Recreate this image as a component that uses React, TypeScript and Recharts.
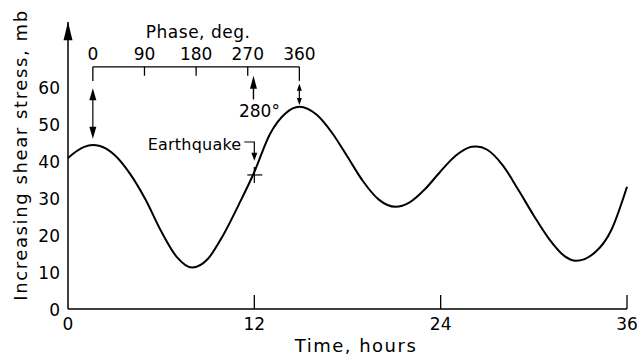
import React from "react";
import { LineChart, Line, XAxis, YAxis, ReferenceLine, ReferenceDot } from "recharts";

// curve (hours vs. shear stress, mb)
const HOURS = [0, 1, 1.6, 2, 3, 4, 5, 6, 7, 8, 9, 10, 11, 12, 13, 14, 14.9, 16, 17, 18, 19, 20, 21.1, 22, 23, 24, 25, 26, 26.3, 27, 28, 29, 30, 31, 32, 32.7, 34, 35, 36];
const STRESS = [40.8, 43.7, 44.3, 44.1, 41.6, 36.5, 29.5, 21, 14.1, 11.2, 13.5, 20, 28.2, 37, 47.2, 52.8, 54.6, 52.5, 47.6, 41.1, 34.5, 29.6, 27.6, 28.8, 32.4, 37.2, 41.5, 43.8, 43.9, 43, 38.8, 32.2, 25.2, 18.8, 14.2, 13, 15.5, 21.4, 33];
const TIME_TICKS = [0, 12, 24, 36];
const STRESS_TICKS = [0, 10, 20, 30, 40, 50, 60];
const PHASE_TICKS = [0, 90, 180, 270, 360];

const PHASE_ZERO_HOUR = 1.6;
const PHASE_FULL_HOUR = 14.9;
const EARTHQUAKE_PHASE = 280;
const EARTHQUAKE_HOUR = 12;
const EARTHQUAKE_STRESS = 36.2;
const Y_TOP = 77.5;

const FONT = "DejaVu Sans";
const INK = "#000";

const data = HOURS.map((h, i) => ({ hour: h, stress: STRESS[i] }));
const phaseHour = (p: number) => PHASE_ZERO_HOUR + (p / 360) * (PHASE_FULL_HOUR - PHASE_ZERO_HOUR);

function head(x: number, y: number, dir: "up" | "down", len: number, w: number) {
  const s = dir === "up" ? 1 : -1;
  return <polygon points={`${x},${y} ${x - w / 2},${y + s * len} ${x + w / 2},${y + s * len}`} fill={INK} />;
}

const txt = { fontFamily: FONT, fontSize: 17, fill: INK } as const;

export default function App() {
  return (
    <div style={{ position: "absolute", left: 0, top: 0, background: "#fff" }}>
      <LineChart width={638} height={357} data={data} margin={{ top: 22, right: 11, bottom: 0, left: 0 }}>
        <XAxis
          dataKey="hour"
          type="number"
          domain={[0, 36]}
          ticks={TIME_TICKS}
          interval={0}
          height={48}
          tickSize={0}
          tickMargin={0}
          tickLine={false}
          axisLine={{ stroke: INK, strokeWidth: 1.5 }}
          tick={(p: any) => (
            <g>
              {p.payload.value !== 0 && <line x1={p.x} x2={p.x} y1={p.y - 14} y2={p.y} stroke={INK} strokeWidth={1.3} />}
              <text x={p.x} y={p.y + 21} textAnchor="middle" {...txt}>{p.payload.value}</text>
            </g>
          )}
          label={{
            content: (p: any) => (
              <text x={p.viewBox.x + 288} y={p.viewBox.y + 43} textAnchor="middle" {...txt} fontSize={18} letterSpacing={1.5}>
                Time, hours
              </text>
            ),
          }}
        />
        <YAxis
          type="number"
          domain={[0, Y_TOP]}
          ticks={STRESS_TICKS}
          interval={0}
          width={68}
          tickSize={0}
          tickMargin={8}
          tickLine={false}
          axisLine={{ stroke: INK, strokeWidth: 1.5 }}
          tick={{ ...txt, dy: 1 }}
          label={{
            content: (p: any) => (
              <text
                transform={`translate(${p.viewBox.x + 27},${p.viewBox.y + 133}) rotate(-90)`}
                textAnchor="middle"
                {...txt}
                fontSize={18}
                letterSpacing={1.6}
              >
                Increasing shear stress, mb
              </text>
            ),
          }}
        />

        {/* arrow on top of the stress axis */}
        <ReferenceLine
          ifOverflow="visible"
          segment={[{ x: 0, y: Y_TOP }, { x: 0, y: 72.6 }]}
          shape={(p: any) => head(p.x1, p.y1, "up", p.y2 - p.y1, 9)}
        />

        {/* phase scale */}
        <ReferenceLine
          ifOverflow="visible"
          segment={[{ x: phaseHour(0), y: 65.4 }, { x: phaseHour(360), y: 65.4 }]}
          shape={(p: any) => (
            <g>
              <line x1={p.x1} y1={p.y1} x2={p.x2} y2={p.y2} stroke={INK} strokeWidth={1.3} />
              <text x={(p.x1 + p.x2) / 2 + 2} y={p.y1 - 29} textAnchor="middle" {...txt} letterSpacing={0.5}>
                Phase, deg.
              </text>
            </g>
          )}
        />
        {PHASE_TICKS.map((d) => (
          <ReferenceLine
            key={d}
            ifOverflow="visible"
            segment={[{ x: phaseHour(d), y: 65.4 }, { x: phaseHour(d), y: d === 0 || d === 360 ? 61.6 : 63.0 }]}
            shape={(p: any) => (
              <g>
                <line x1={p.x1} y1={p.y1} x2={p.x2} y2={p.y2} stroke={INK} strokeWidth={1.3} />
                <text x={p.x1} y={p.y1 - 7} textAnchor="middle" {...txt}>{d}</text>
              </g>
            )}
          />
        ))}

        {/* double arrow at phase 0 */}
        <ReferenceLine
          ifOverflow="visible"
          segment={[{ x: phaseHour(0), y: 59.6 }, { x: phaseHour(0), y: 46.0 }]}
          shape={(p: any) => (
            <g>
              <line x1={p.x1} y1={p.y1 + 8} x2={p.x2} y2={p.y2 - 8} stroke={INK} strokeWidth={1.2} />
              {head(p.x1, p.y1, "up", 12, 7)}
              {head(p.x2, p.y2, "down", 12, 7)}
            </g>
          )}
        />
        {/* small double arrow at phase 360 */}
        <ReferenceLine
          ifOverflow="visible"
          segment={[{ x: phaseHour(360), y: 60.8 }, { x: phaseHour(360), y: 55.1 }]}
          shape={(p: any) => (
            <g>
              <line x1={p.x1} y1={p.y1 + 4} x2={p.x2} y2={p.y2 - 4} stroke={INK} strokeWidth={1.2} />
              {head(p.x1, p.y1, "up", 7, 5)}
              {head(p.x2, p.y2, "down", 7, 5)}
            </g>
          )}
        />
        {/* 280 deg arrow */}
        <ReferenceLine
          ifOverflow="visible"
          segment={[{ x: phaseHour(EARTHQUAKE_PHASE), y: 63.0 }, { x: phaseHour(EARTHQUAKE_PHASE), y: 56.6 }]}
          shape={(p: any) => (
            <g>
              <line x1={p.x1} y1={p.y1 + 8} x2={p.x2} y2={p.y2} stroke={INK} strokeWidth={1.4} />
              {head(p.x1, p.y1, "up", 13, 7)}
              <text x={p.x1 + 6} y={p.y2 + 18} textAnchor="middle" {...txt}>{`${EARTHQUAKE_PHASE}°`}</text>
            </g>
          )}
        />
        {/* earthquake pointer */}
        <ReferenceLine
          ifOverflow="visible"
          segment={[{ x: EARTHQUAKE_HOUR, y: 45.1 }, { x: EARTHQUAKE_HOUR, y: 40.0 }]}
          shape={(p: any) => (
            <g>
              <polyline
                points={`${p.x1 - 10},${p.y1} ${p.x1},${p.y1} ${p.x2},${p.y2 - 6}`}
                fill="none"
                stroke={INK}
                strokeWidth={1.2}
              />
              {head(p.x2, p.y2, "down", 8, 6)}
              <text x={p.x1 - 13} y={p.y1 + 8} textAnchor="end" {...txt} fontSize={16} letterSpacing={0.2}>
                Earthquake
              </text>
            </g>
          )}
        />
        <ReferenceDot
          ifOverflow="visible"
          x={EARTHQUAKE_HOUR}
          y={EARTHQUAKE_STRESS}
          shape={(p: any) => (
            <g stroke={INK} strokeWidth={1.2}>
              <line x1={p.cx - 7} x2={p.cx + 8} y1={p.cy} y2={p.cy} />
              <line x1={p.cx} x2={p.cx} y1={p.cy - 8} y2={p.cy + 8} />
            </g>
          )}
        />

        <Line
          dataKey="stress"
          type="monotone"
          stroke={INK}
          strokeWidth={2}
          dot={false}
          activeDot={false}
          isAnimationActive={false}
        />
      </LineChart>
    </div>
  );
}
